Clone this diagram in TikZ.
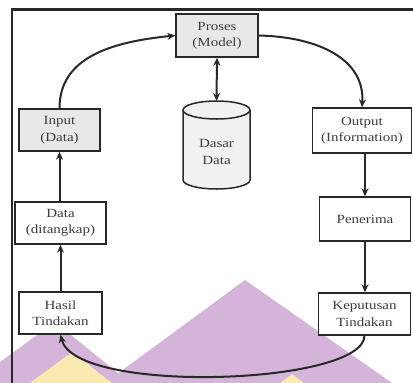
\documentclass[tikz,border=0pt]{standalone}
\usepackage{fontspec}
\setmainfont{Liberation Serif}[FakeStretch=1.2]
\usetikzlibrary{arrows.meta}
\definecolor{wmpurple}{RGB}{212,180,216}
\definecolor{wmyellow}{RGB}{250,234,178}
\definecolor{boxgray}{RGB}{232,232,232}
\definecolor{ink}{RGB}{40,40,40}
\tikzset{
  >={Stealth[length=8pt,width=7pt]},
  box/.style={draw=ink, line width=1.5pt, align=center, inner sep=1pt,
    font=\fontsize{12.5}{16.5}\selectfont, text=ink!90},
  graybox/.style={box, fill=boxgray},
  whitebox/.style={box, fill=white},
  conn/.style={draw=ink, line width=2pt, ->},
  dconn/.style={draw=ink, line width=2pt, <->},
}
\begin{document}
\begin{tikzpicture}[x=1pt,y=-1pt]
\useasboundingbox (0,0) rectangle (413,383);
% watermark background
\fill[wmpurple] (0,362) -- (55,322) -- (130,383) -- (0,383) -- cycle;
\fill[wmpurple] (245,280) -- (105,383) -- (392,383) -- cycle;
\fill[wmyellow] (30,383) -- (72,352) -- (112,383) -- cycle;
\fill[wmyellow] (280,383) -- (292,374) -- (304,383) -- cycle;
% frame
\draw[ink, line width=2.5pt] (12,383) -- (12,9.5) -- (413,9.5);
% nodes
\node[graybox, minimum width=82pt, minimum height=43pt] (proses) at (217,35.5) {Proses\\(Model)};
\node[graybox, minimum width=81pt, minimum height=42pt] (input) at (59.5,130) {Input\\(Data)};
\node[whitebox, minimum width=99pt, minimum height=45pt] (output) at (362,130.5) {Output\\(Information)};
\node[whitebox, minimum width=91pt, minimum height=42pt] (data) at (60.5,223) {Data\\(ditangkap)};
\node[whitebox, minimum width=91pt, minimum height=44pt] (penerima) at (365,219) {Penerima};
\node[whitebox, minimum width=92pt, minimum height=42pt] (keputusan) at (364.5,314) {Keputusan\\Tindakan};
\node[whitebox, minimum width=83pt, minimum height=42pt] (hasil) at (60.5,313) {Hasil\\Tindakan};
% cylinder
\coordinate (dbtop) at (216.5,101);
\filldraw[fill=boxgray!60, draw=ink, line width=1.5pt]
  (183,110) -- (183,180) arc[start angle=180, end angle=360, x radius=33.5pt, y radius=9pt]
  -- (250,110) arc[start angle=0, end angle=180, x radius=33.5pt, y radius=9pt] -- cycle;
\draw[ink, line width=1.5pt] (183,110) arc[start angle=180, end angle=360, x radius=33.5pt, y radius=9pt];
\node[box, draw=none] (db) at (216.5,152) {Dasar\\Data};
% connectors
\draw[conn] (input.north) .. controls (59.5,58) and (110,42) .. (proses.west);
\draw[conn] (proses.east) .. controls (320,37) and (365,60) .. (output.north);
\draw[dconn] (proses.south) -- (dbtop);
\draw[conn] (output.south -| penerima.north) -- (penerima.north);
\draw[conn] (penerima.south) -- (keputusan.north -| penerima.south);
\draw[conn] (keputusan.south) .. controls (364,385) and (75,395) .. (hasil.south);
\draw[conn] (hasil.north) -- (hasil.north |- data.south);
\draw[conn] (input.south |- data.north) -- (input.south);
\end{tikzpicture}
\end{document}
